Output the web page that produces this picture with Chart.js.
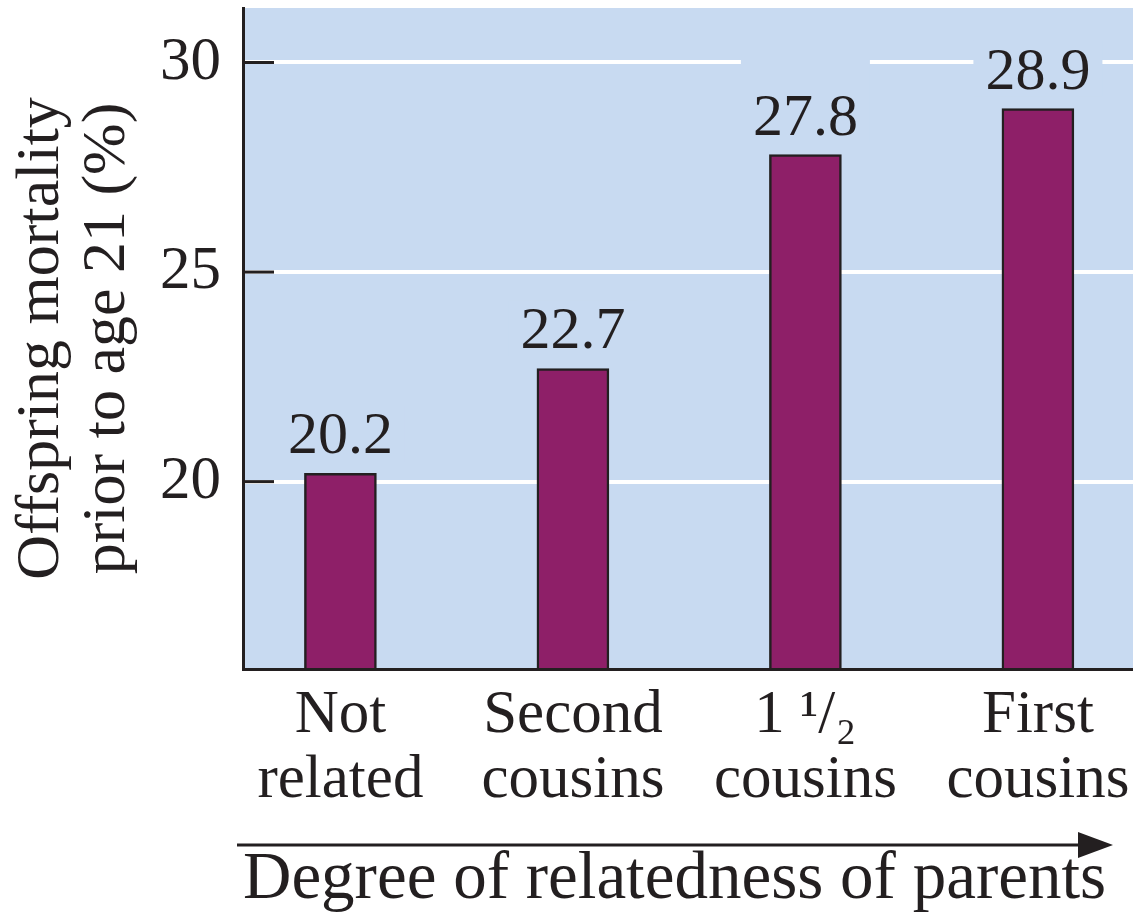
<!DOCTYPE html>
<html lang='en'>
<head>
  <meta charset='UTF-8'>
  <title>Offspring mortality and relatedness of parents</title>
  <style>
    html, body { margin: 0; padding: 0; background: #ffffff; }
    #wrap { width: 1133px; height: 920px; }
  </style>
  <script src="https://cdn.jsdelivr.net/npm/chart.js"></script>
</head>
<body>
  <div id='wrap'><canvas id='chart' width='1133' height='920'></canvas></div>

  <script>
    // data
    const categories = [['Not', 'related'], ['Second', 'cousins'], ['1 \u00b9/\u2082', 'cousins'], ['First', 'cousins']];
    const mortality = [20.2, 22.7, 27.8, 28.9];
    const yTicks = [20, 25, 30];
    const yTitle = ['Offspring mortality', 'prior to age 21 (%)'];
    const xTitle = 'Degree of relatedness of parents';

    const BG = '#c8daf1', INK = '#231f20', BAR = '#8e1f68';
    const SERIF = '"Liberation Serif", "DejaVu Serif", serif';
    Chart.defaults.font.family = SERIF;
    Chart.defaults.color = INK;

    const decor = {
      id: 'decor',
      beforeDraw(chart) {
        const { ctx, chartArea: a } = chart;
        ctx.save();
        ctx.fillStyle = BG;
        ctx.fillRect(a.left, a.top, a.right - a.left, a.bottom - a.top);
        ctx.restore();
      },
      afterDatasetsDraw(chart) {
        const { ctx, chartArea: a, scales: { y } } = chart;
        const gridPx = yTicks.map(v => y.getPixelForValue(v));
        ctx.save();
        // short dark ticks pointing into the plot
        ctx.strokeStyle = INK;
        ctx.lineWidth = 3;
        gridPx.forEach(py => {
          ctx.beginPath(); ctx.moveTo(a.left, py); ctx.lineTo(a.left + 31, py); ctx.stroke();
        });
        // value labels; a gridline just above a label is broken around it
        ctx.font = '60px ' + SERIF;
        ctx.textAlign = 'center';
        ctx.textBaseline = 'alphabetic';
        chart.getDatasetMeta(0).data.forEach((bar, i) => {
          const txt = mortality[i].toFixed(1);
          const base = bar.y - 20;
          const top = base - 42;
          const w = ctx.measureText(txt).width;
          let boxTop = top - 6;
          gridPx.forEach(py => { if (py < top && py > top - 32) boxTop = Math.min(boxTop, py - 4); });
          ctx.fillStyle = BG;
          ctx.fillRect(bar.x - w / 2 - 12, boxTop, w + 24, base + 8 - boxTop);
          ctx.fillStyle = INK;
          ctx.fillText(txt, bar.x, base);
        });
        ctx.restore();
      },
      afterDraw(chart) {
        const { ctx } = chart;
        ctx.save();
        ctx.strokeStyle = INK;
        ctx.fillStyle = INK;
        ctx.lineWidth = 3;
        ctx.beginPath(); ctx.moveTo(237, 845); ctx.lineTo(1090, 845); ctx.stroke();
        ctx.beginPath(); ctx.moveTo(1078, 832); ctx.lineTo(1113, 845); ctx.lineTo(1078, 858); ctx.closePath(); ctx.fill();
        ctx.restore();
      }
    };

    new Chart(document.getElementById('chart'), {
      type: 'bar',
      data: {
        datasets: [{
          data: mortality.map((v, i) => ({ x: i, y: v })),
          backgroundColor: BAR,
          borderColor: INK,
          borderWidth: 2.5,
          borderSkipped: 'bottom',
          barThickness: 72
        }]
      },
      options: {
        responsive: false,
        animation: false,
        devicePixelRatio: 1,
        layout: { padding: { top: 8, right: 0, left: 0, bottom: 0 } },
        plugins: { legend: { display: false }, tooltip: { enabled: false } },
        scales: {
          x: {
            type: 'linear',
            offset: false,
            min: -0.419, max: 3.409,
            afterBuildTicks: s => { s.ticks = categories.map((c, i) => ({ value: i })); },
            afterFit: s => { s.height = 251; s.paddingLeft = 0; s.paddingRight = 0; },
            ticks: { callback: v => categories[v], font: { size: 61, lineHeight: 1.07 }, color: INK, padding: 14, maxRotation: 0, autoSkip: false },
            grid: { display: false, drawTicks: false },
            border: { color: INK, width: 3, z: 1 },
            title: { display: true, align: 'start', text: xTitle, font: { size: 67, lineHeight: 1.0 }, color: INK, padding: { top: 0, bottom: 6 } }
          },
          y: {
            min: 15.53, max: 31.3,
            afterBuildTicks: s => { s.ticks = yTicks.map(v => ({ value: v })); },
            afterFit: s => { s.width = 243; s.paddingTop = 0; s.paddingBottom = 0; },
            ticks: { font: { size: 61 }, color: INK, padding: 22 },
            grid: { color: '#ffffff', lineWidth: 4, drawTicks: false },
            border: { color: INK, width: 3, z: 1 },
            title: { display: true, text: yTitle, font: { size: 62, lineHeight: 1.06 }, color: INK, padding: { top: 9, bottom: 0 } }
          }
        }
      },
      plugins: [decor]
    });
  </script>
</body>
</html>
